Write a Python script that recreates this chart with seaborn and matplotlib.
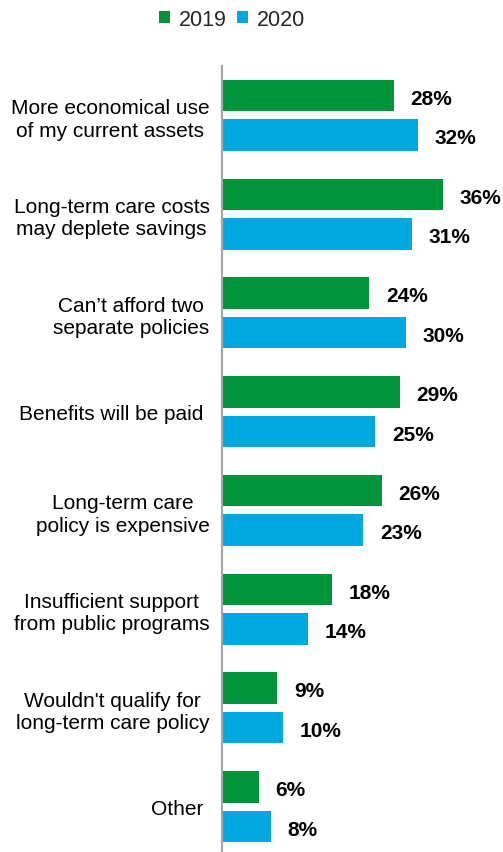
import matplotlib
matplotlib.use("Agg")
import matplotlib.pyplot as plt
from matplotlib.patches import Patch
import pandas as pd
import seaborn as sns

# Reasons and shares (%) by survey year
reasons = [
    "More economical use\nof my current assets",
    "Long-term care costs\nmay deplete savings",
    "Can\u2019t afford two\nseparate policies",
    "Benefits will be paid ",
    "Long-term care\npolicy is expensive",
    "Insufficient support\nfrom public programs",
    "Wouldn't qualify for\nlong-term care policy",
    "Other ",
]
years = ["2019", "2020"]
share_2019 = [28, 36, 24, 29, 26, 18, 9, 6]
share_2020 = [32, 31, 30, 25, 23, 14, 10, 8]
colors = ["#00953A", "#00A8E1"]

df = pd.DataFrame({
    "reason": reasons * 2,
    "year": [years[0]] * len(reasons) + [years[1]] * len(reasons),
    "share": share_2019 + share_2020,
})

sns.set_theme(style="white")
plt.rcParams["font.family"] = ["Liberation Sans", "DejaVu Sans"]

W, H = 503, 853
fig = plt.figure(figsize=(W / 100, H / 100), dpi=100)
ax = fig.add_axes([222 / W, -4 / H, 281 / W, 790 / H])

sns.barplot(
    data=df, y="reason", x="share", hue="year", order=reasons,
    hue_order=years, palette=colors, orient="h", width=0.8, gap=0.2,
    saturation=1, linewidth=0, legend=False, ax=ax,
)

ax.set_xlim(0, 45.8)
ax.set_ylim(len(reasons) - 0.5, -0.5)
ax.set_xlabel("")
ax.set_ylabel("")
ax.set_xticks([])
for side in ["top", "right", "bottom"]:
    ax.spines[side].set_visible(False)
ax.spines["left"].set_color("#A6A6A6")
ax.spines["left"].set_linewidth(1.6)
ax.tick_params(axis="y", length=0, pad=9, labelsize=15, labelcolor="#000000")
for lbl in ax.get_yticklabels():
    lbl.set_multialignment("center")
    lbl.set_linespacing(1.22)

# Value labels to the right of each bar
for container in ax.containers:
    for bar in container:
        w = bar.get_width()
        ax.annotate(
            f"{w:.0f}%",
            xy=(w, bar.get_y() + bar.get_height() / 2),
            xytext=(12, -2), textcoords="offset points",
            ha="left", va="center", fontsize=15, fontweight="bold",
            color="#000000", annotation_clip=False,
        )

handles = [Patch(facecolor=c, edgecolor="none") for c in colors]
fig.legend(
    handles, years, loc="center", bbox_to_anchor=(232 / W, 1 - 20 / H),
    ncol=2, frameon=False, fontsize=15.5, handlelength=0.5, handleheight=0.5,
    handletextpad=0.4, columnspacing=0.5, borderpad=0,
)

fig.savefig("out.png", dpi=100, facecolor="white")
